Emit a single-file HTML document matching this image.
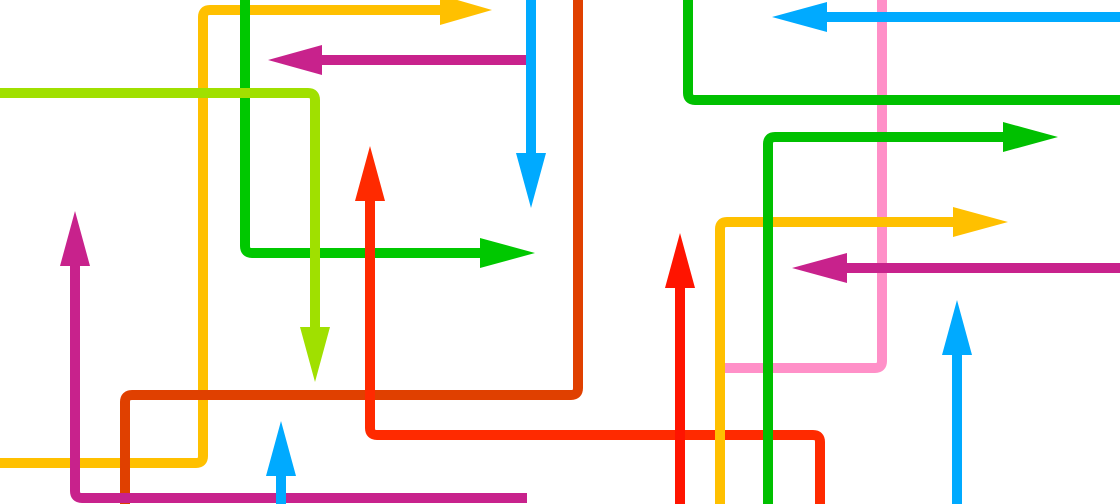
<!DOCTYPE html>
<html><head><meta charset="utf-8"><style>html,body{margin:0;padding:0;background:#fff}svg{display:block}</style></head>
<body>
<svg width="1120" height="504" viewBox="0 0 1120 504" xmlns="http://www.w3.org/2000/svg">
<g fill="none" stroke-width="10" stroke-linejoin="round">
<!-- yellow left -->
<path d="M0 463 H196 Q203 463 203 456 V17 Q203 10 210 10 H445" stroke="#FFC000"/>
<polygon points="440,-5 492,10 440,25" fill="#FFC000" stroke="none"/>
<!-- green -->
<path d="M245 0 V246 Q245 253 252 253 H485" stroke="#00C800"/>
<polygon points="480,238 535,253 480,268" fill="#00C800" stroke="none"/>
<!-- magenta top -->
<path d="M527 60 H315" stroke="#C8228C"/>
<polygon points="322,45 268,60 322,75" fill="#C8228C" stroke="none"/>
<!-- blue top -->
<path d="M531 0 V160" stroke="#00AAFF"/>
<polygon points="516,153 531,208 546,153" fill="#00AAFF" stroke="none"/>
<!-- orange red -->
<path d="M578 0 V388 Q578 395 571 395 H132 Q125 395 125 402 V504" stroke="#E04000"/>
<!-- lime -->
<path d="M0 93 H308 Q315 93 315 100 V330" stroke="#A0E000"/>
<polygon points="300,327 315,382 330,327" fill="#A0E000" stroke="none"/>
<!-- red -->
<path d="M820 504 V442 Q820 435 813 435 H377 Q370 435 370 428 V195" stroke="#FF2A00"/>
<polygon points="355,201 370,146 385,201" fill="#FF2A00" stroke="none"/>
<!-- magenta bottom -->
<path d="M527 498 H82 Q75 498 75 491 V260" stroke="#C8228C"/>
<polygon points="60,266 75,211 90,266" fill="#C8228C" stroke="none"/>
<!-- blue bottom -->
<path d="M281 504 V465" stroke="#00AAFF"/>
<polygon points="266,476 281,421 296,476" fill="#00AAFF" stroke="none"/>
<!-- red right -->
<path d="M680 504 V280" stroke="#FF1400"/>
<polygon points="665,288 680,233 695,288" fill="#FF1400" stroke="none"/>
<!-- pink -->
<path d="M882 0 V361 Q882 368 875 368 H720" stroke="#FF90C8"/>
<!-- yellow right -->
<path d="M720 504 V229 Q720 222 727 222 H960" stroke="#FFC000"/>
<polygon points="953,207 1008,222 953,237" fill="#FFC000" stroke="none"/>
<!-- green right -->
<path d="M768 504 V144 Q768 137 775 137 H1010" stroke="#00C000"/>
<polygon points="1003,122 1058,137 1003,152" fill="#00C000" stroke="none"/>
<!-- green top right -->
<path d="M688 0 V93 Q688 100 695 100 H1120" stroke="#00C000"/>
<!-- blue top right -->
<path d="M1120 17 H820" stroke="#00AAFF"/>
<polygon points="827,2 772,17 827,32" fill="#00AAFF" stroke="none"/>
<!-- magenta right -->
<path d="M1120 268 H840" stroke="#C8228C"/>
<polygon points="847,253 792,268 847,283" fill="#C8228C" stroke="none"/>
<!-- blue right -->
<path d="M957 504 V345" stroke="#00AAFF"/>
<polygon points="942,355 957,300 972,355" fill="#00AAFF" stroke="none"/>
</g>
</svg>
</body></html>
